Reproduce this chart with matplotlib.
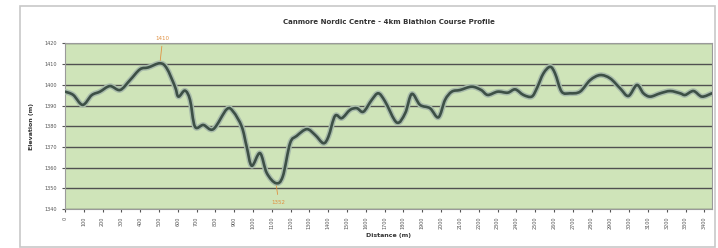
import matplotlib.pyplot as plt
from matplotlib.patches import Rectangle, PathPatch
from matplotlib.path import Path

# course profile
distance = [0, 44, 94, 142, 186, 239, 293, 346, 399, 443, 505, 541, 585, 603,
            638, 665, 691, 736, 789, 860, 895, 940, 966, 993, 1037, 1073, 1122,
            1158, 1197, 1232, 1286, 1330, 1374, 1401, 1436, 1472, 1516, 1552,
            1587, 1631, 1666, 1702, 1764, 1809, 1844, 1888, 1941, 1986, 2021,
            2057, 2101, 2163, 2213, 2248, 2301, 2354, 2394, 2438, 2482, 2509,
            2544, 2580, 2606, 2641, 2686, 2739, 2793, 2846, 2899, 2952, 2996,
            3041, 3076, 3112, 3165, 3218, 3271, 3298, 3342, 3387, 3440]
elevation = [1396.7, 1395.1, 1390.3, 1395.0, 1396.7, 1399.4, 1397.5, 1402.3,
             1407.5, 1408.4, 1410.4, 1408.0, 1399.1, 1394.3, 1397.2, 1392.7,
             1379.8, 1380.6, 1378.6, 1388.2, 1387.0, 1379.8, 1370.2, 1360.9,
             1367.0, 1357.4, 1352.5, 1355.7, 1371.8, 1375.3, 1378.6, 1375.8,
             1371.8, 1375.0, 1385.0, 1383.9, 1387.9, 1388.7, 1387.0, 1392.7,
             1395.9, 1392.0, 1381.8, 1386.3, 1395.6, 1390.3, 1388.7, 1384.3,
             1392.7, 1396.7, 1397.5, 1399.1, 1397.5, 1395.1, 1396.7, 1396.2,
             1397.8, 1395.1, 1394.3, 1398.3, 1405.5, 1408.7, 1405.5, 1396.7,
             1395.9, 1396.7, 1402.3, 1404.7, 1403.1, 1398.3, 1394.6, 1399.9,
             1395.9, 1394.3, 1395.9, 1397.0, 1395.9, 1395.1, 1397.0, 1394.3,
             1395.9]
y_ticks = [1340, 1350, 1360, 1370, 1380, 1390, 1400, 1410, 1420]
x_ticks = list(range(0, 3500, 100))


def smooth_path(xs, ys):
    # catmull-rom through the points, as cubic bezier segments
    verts = [(xs[0], ys[0])]
    codes = [Path.MOVETO]
    n = len(xs)
    for i in range(n - 1):
        x0, y0 = (xs[i - 1], ys[i - 1]) if i > 0 else (xs[i], ys[i])
        x1, y1 = xs[i], ys[i]
        x2, y2 = xs[i + 1], ys[i + 1]
        x3, y3 = (xs[i + 2], ys[i + 2]) if i + 2 < n else (x2, y2)
        verts += [(x1 + (x2 - x0) / 6, y1 + (y2 - y0) / 6),
                  (x2 - (x3 - x1) / 6, y2 - (y3 - y1) / 6),
                  (x2, y2)]
        codes += [Path.CURVE4] * 3
    return Path(verts, codes)


fig = plt.figure(figsize=(7.18, 2.48), dpi=100)
fig.patches.append(Rectangle((0.028, 0.004), 0.968, 0.97, transform=fig.transFigure,
                             fill=False, edgecolor='#c8c8c8', linewidth=1.2))

ax = fig.add_axes([0.0905, 0.157, 0.901, 0.668])
ax.set_facecolor('#cfe4b9')
path = smooth_path(distance, elevation)
ax.add_patch(PathPatch(path, fill=False, edgecolor='#a9bcab', linewidth=4.0,
                       joinstyle='round', capstyle='round', zorder=3))
ax.add_patch(PathPatch(path, fill=False, edgecolor='#3d5046', linewidth=1.9,
                       joinstyle='round', capstyle='round', zorder=4))

ax.set_xlim(0, 3440)
ax.set_ylim(1340, 1420)
ax.set_yticks(y_ticks)
ax.set_xticks(x_ticks)
ax.set_xticklabels([str(v) for v in x_ticks], rotation=90)
ax.tick_params(labelsize=3.5, colors='#555555', length=2)
ax.yaxis.grid(True, color='#505050', linewidth=1.0)
ax.set_axisbelow(True)
for s in ax.spines.values():
    s.set_color('#9a9a9a')

# max / min labels
imax = elevation.index(max(elevation))
imin = elevation.index(min(elevation))
ax.annotate('%d' % round(elevation[imax]), (distance[imax], elevation[imax]),
            xytext=(2, 17), textcoords='offset points', ha='center',
            fontsize=4, color='#e09040', annotation_clip=False,
            arrowprops=dict(arrowstyle='-', color='#e09040', lw=0.6))
ax.annotate('%d' % round(elevation[imin]), (distance[imin], elevation[imin]),
            xytext=(2, -15), textcoords='offset points', ha='center',
            fontsize=4, color='#e09040',
            arrowprops=dict(arrowstyle='-', color='#e09040', lw=0.6))

ax.set_title('Canmore Nordic Centre - 4km Biathlon Course Profile',
             fontsize=5, fontweight='bold', color='#333333', pad=14)
ax.set_ylabel('Elevation (m)', fontsize=4.5, fontweight='bold', color='#333333', labelpad=8)
ax.set_xlabel('Distance (m)', fontsize=4.5, fontweight='bold', color='#333333', labelpad=3)

fig.savefig('out.png', dpi=100)
